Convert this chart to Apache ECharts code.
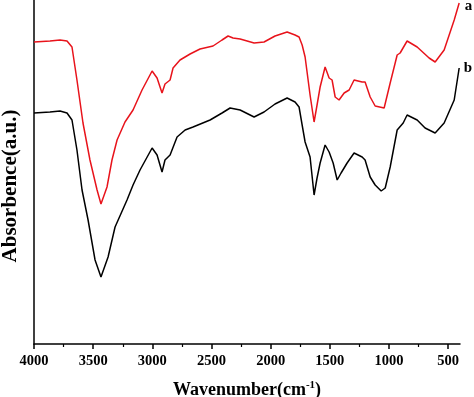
<!DOCTYPE html>
<html>
<head>
<meta charset="utf-8">
<script src="https://cdn.jsdelivr.net/npm/echarts@6/dist/echarts.min.js"></script>
<style>html,body{margin:0;padding:0;background:#fff;}#c{width:474px;height:397px;}</style>
</head>
<body>
<div id="c"></div>
<script>
var wavenumbers = [4000,3865,3780,3721,3679,3637,3586,3527,3467,3434,3383,3341,3298,3231,3163,3087,3002,2960,2918,2893,2850,2825,2766,2681,2597,2487,2411,2360,2318,2258,2140,2056,1963,1861,1794,1760,1734,1709,1667,1633,1608,1582,1540,1506,1481,1455,1422,1379,1337,1295,1227,1202,1159,1117,1041,990,931,906,847,762,661,610,534,449,407];
var seriesA = [302,303,304,303,297,264,221,184,154,140,157,184,204,222,234,254,273,266,251,260,264,276,284,290,295,298,304,308,306,305,301,302,308,312,309,307,299,287,249,222,239,257,277,266,264,247,244,251,254,264,262,262,247,238,236,261,289,291,303,297,286,282,294,324,341];

var wavenumbersB = [4000,3865,3780,3721,3679,3637,3594,3543,3484,3434,3374,3315,3214,3163,3104,3002,2960,2918,2893,2850,2791,2723,2656,2512,2411,2343,2258,2140,2056,1963,1861,1794,1760,1734,1709,1667,1633,1608,1582,1540,1506,1472,1438,1405,1354,1295,1227,1202,1159,1117,1066,1032,990,931,880,847,762,695,610,534,449,407];
var seriesB = [231,232,233,231,224,194,154,124,84,67,87,117,144,159,174,196,189,172,184,189,207,214,217,224,231,236,234,227,232,240,246,242,237,219,202,187,149,166,181,199,192,181,164,171,181,191,187,184,167,159,153,156,177,214,221,229,224,216,211,221,244,276];

var majorTicks = [500,1000,1500,2000,2500,3000,3500,4000];
var minorTicks = [750,1250,1750,2250,2750,3250,3750];
var seriesNames = ['a','b'];

function pairs(xs, ys){ return xs.map(function(x,i){ return [x, ys[i]]; }); }

var font = 'Liberation Serif';
var chart = echarts.init(document.getElementById('c'));
chart.setOption({
  animation: false,
  grid: {left: 34, right: 14, top: 0, bottom: 53, containLabel: false, outerBoundsMode: 'none'},
  xAxis: [{
    type: 'value', min: 400, max: 4000, inverse: true,
    axisLine: {show: true, lineStyle: {color: '#000', width: 1.5}},
    axisTick: {show: true, customValues: majorTicks, length: 5, lineStyle: {color: '#000', width: 1.5}},
    axisLabel: {show: true, customValues: majorTicks, formatter: function(v){ return String(v); }, color: '#000', fontFamily: font, fontWeight: 'bold', fontSize: 14.5, margin: 10},
    splitLine: {show: false},
    name: '{t|Wavenumber(cm}{s|-1}{t|)}',
    nameLocation: 'middle', nameGap: 36,
    nameTextStyle: {
      rich: {
        t: {fontFamily: font, fontWeight: 'bold', fontSize: 18, color: '#000'},
        s: {fontFamily: font, fontWeight: 'bold', fontSize: 11, color: '#000', padding: [0,0,10,0]}
      }
    }
  },{
    type: 'value', min: 400, max: 4000, inverse: true, position: 'bottom',
    axisLine: {show: false},
    axisTick: {show: true, customValues: minorTicks, length: 3, lineStyle: {color: '#000', width: 1.2}},
    axisLabel: {show: false},
    splitLine: {show: false}
  }],
  yAxis: {
    type: 'value', min: 0, max: 344,
    axisLine: {show: true, lineStyle: {color: '#000', width: 1.5}},
    axisTick: {show: false}, axisLabel: {show: false}, splitLine: {show: false},
    name: 'Absorbence(a.u.)', nameLocation: 'middle', nameGap: 13,
    nameTextStyle: {fontFamily: font, fontWeight: 'bold', fontSize: 21, color: '#000', padding: [0, 28, 0, 0]}
  },
  series: [{
    name: seriesNames[0], type: 'line', data: pairs(wavenumbers, seriesA),
    showSymbol: false, lineStyle: {color: '#e8131b', width: 1.5}, itemStyle: {color: '#e8131b'},
    endLabel: {show: true, formatter: seriesNames[0], fontFamily: font, fontWeight: 'bold', fontSize: 15, color: '#000', distance: 3, offset: [16, 3]}
  },{
    name: seriesNames[1], type: 'line', data: pairs(wavenumbersB, seriesB),
    showSymbol: false, lineStyle: {color: '#000', width: 1.5}, itemStyle: {color: '#000'},
    endLabel: {show: true, formatter: seriesNames[1], fontFamily: font, fontWeight: 'bold', fontSize: 15, color: '#000', distance: 3, offset: [16, 0]}
  }]
});
</script>
</body>
</html>
